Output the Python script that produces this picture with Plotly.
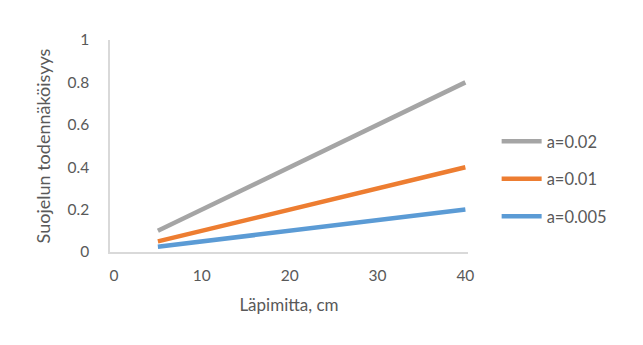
import plotly.graph_objects as go

x_vals = [5, 10, 15, 20, 25, 30, 35, 40]
y_a002 = [0.10, 0.20, 0.30, 0.40, 0.50, 0.60, 0.70, 0.80]
y_a001 = [0.05, 0.10, 0.15, 0.20, 0.25, 0.30, 0.35, 0.40]
y_a0005 = [0.025, 0.05, 0.075, 0.10, 0.125, 0.15, 0.175, 0.20]
names = ["a=0.02", "a=0.01", "a=0.005"]
colors = ["#A5A5A5", "#ED7D31", "#5B9BD5"]

fig = go.Figure()
for i, (name, ys, c) in enumerate(zip(names, [y_a002, y_a001, y_a0005], colors)):
    fig.add_trace(go.Scatter(x=x_vals, y=ys, mode="lines", name=name,
                             legendgroup=name,
                             line=dict(color=c, width=4.5)))

font_family = "Lato, 'Open Sans', sans-serif"
fig.update_layout(
    width=643, height=345,
    margin=dict(l=110, r=175, t=40, b=93),
    paper_bgcolor="white", plot_bgcolor="white",
    font=dict(family=font_family, color="#595959", size=15),
    showlegend=True,
    legend=dict(x=1.08, y=0.344, xanchor="left", yanchor="middle",
                font=dict(size=16.5, color="#595959"),
                tracegroupgap=13, itemwidth=40),
    xaxis=dict(range=[-0.45, 40.3], tickvals=[0, 10, 20, 30, 40],
               showgrid=False, zeroline=False, showline=True,
               linecolor="#D9D9D9", linewidth=1.5, ticks="",
               tickfont=dict(size=15.5, color="#595959"),
               ticklabelstandoff=9,
               title=dict(text="Läpimitta, cm", font=dict(size=17, color="#595959"),
                          standoff=16)),
    yaxis=dict(range=[0, 1], tickvals=[0, 0.2, 0.4, 0.6, 0.8, 1],
               ticktext=["0", "0.2", "0.4", "0.6", "0.8", "1"],
               showgrid=False, zeroline=False, showline=True,
               linecolor="#D9D9D9", linewidth=1.5, ticks="",
               tickfont=dict(size=15.5, color="#595959"),
               ticklabelstandoff=16,
               title=dict(text="Suojelun todennäköisyys", font=dict(size=18, color="#595959"),
                          standoff=12)),
)

fig.write_html("out.html")
